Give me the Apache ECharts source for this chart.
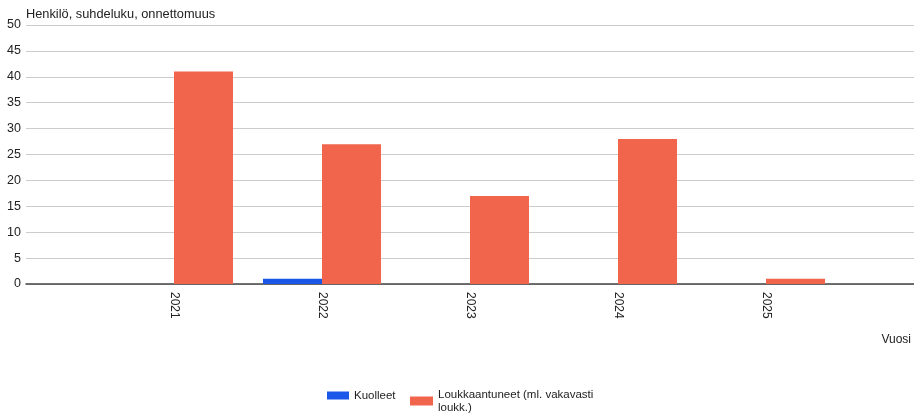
<!DOCTYPE html>
<html><head><meta charset="utf-8">
<script src="https://cdn.jsdelivr.net/npm/echarts@6/dist/echarts.min.js"></script>
<style>html,body{margin:0;padding:0;background:#fff}#c{width:914px;height:414px}</style>
</head><body><div id="c"></div>
<script>
const years = [2021, 2022, 2023, 2024, 2025];
const kuolleet = [0, 1, 0, 0, 0];
const loukkaantuneet = [41, 27, 17, 28, 1];
const seriesNames = ['Kuolleet', 'Loukkaantuneet (ml. vakavasti\nloukk.)'];
const yTitle = 'Henkilö, suhdeluku, onnettomuus';
const xTitle = 'Vuosi';

const font = 'Liberation Sans, Arial, sans-serif';
const legendText = { fontSize: 11.5, color: '#222', fontFamily: font, lineHeight: 13 };
const chart = echarts.init(document.getElementById('c'));
chart.setOption({
  animation: false,
  textStyle: { fontFamily: font },
  title: [
    { text: yTitle, left: 26, top: 8, padding: 0, textStyle: { fontSize: 12.8, fontWeight: 'normal', color: '#222', fontFamily: font } },
    { text: xTitle, right: 3, top: 334, padding: 0, textStyle: { fontSize: 12, fontWeight: 'normal', color: '#222', fontFamily: font } }
  ],
  grid: { left: 26, right: 0, top: 25, bottom: 130, containLabel: false },
  legend: [
    { left: 327, top: 389, padding: 0, itemWidth: 22, itemHeight: 8, icon: 'rect',
      textStyle: legendText, data: [seriesNames[0]] },
    { left: 410, top: 388, padding: 0, itemWidth: 23, itemHeight: 9, icon: 'rect',
      textStyle: legendText, data: [seriesNames[1]] }
  ],
  xAxis: {
    type: 'value', min: 2020, max: 2026, interval: 1,
    splitLine: { show: false },
    axisLine: { show: true, lineStyle: { color: '#444', width: 1.5 } },
    axisTick: { show: false },
    axisLabel: { rotate: -90, fontSize: 12, color: '#222', showMinLabel: false, showMaxLabel: false, margin: 8,
      formatter: v => String(v) }
  },
  yAxis: {
    type: 'value', min: 0, max: 50, interval: 5,
    axisLine: { show: false }, axisTick: { show: false },
    splitLine: { lineStyle: { color: '#ccc', width: 1 } },
    axisLabel: { fontSize: 12.5, color: '#222', margin: 5 }
  },
  series: [
    { name: seriesNames[0], type: 'bar', barWidth: 59, barGap: '0%', itemStyle: { color: '#1a56e8' },
      data: years.map((y, i) => [y, kuolleet[i]]) },
    { name: seriesNames[1], type: 'bar', barWidth: 59, barGap: '0%', itemStyle: { color: '#f0654c' },
      data: years.map((y, i) => [y, loukkaantuneet[i]]) }
  ]
});
</script></body></html>
